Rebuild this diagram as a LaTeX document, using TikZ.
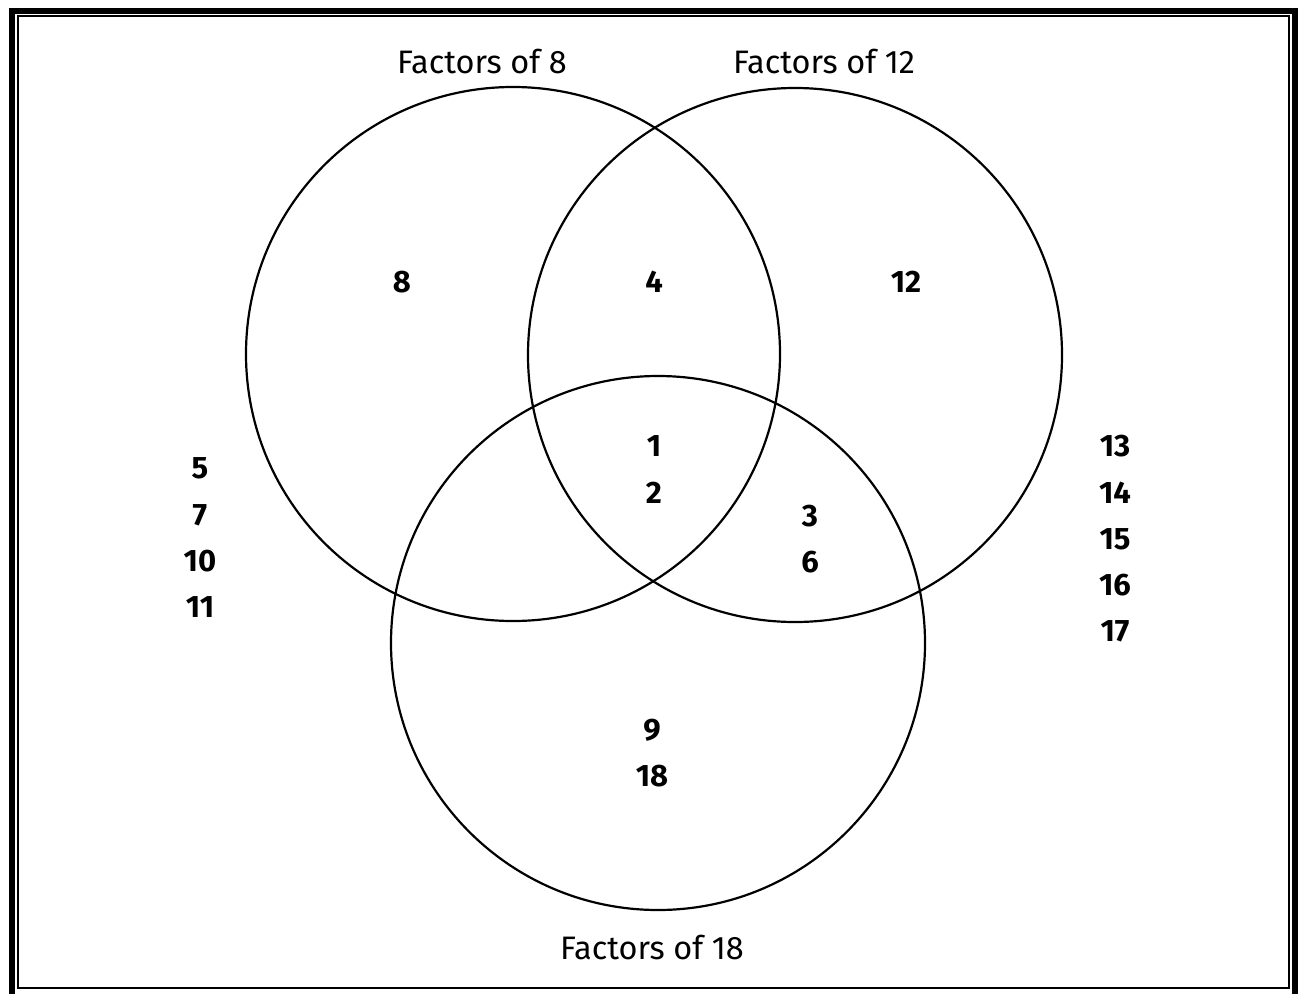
\documentclass[tikz,border=0pt]{standalone}
\usepackage{fontspec}
\setmainfont{Fira Sans}
\begin{document}
\begin{tikzpicture}[x=1pt,y=-1pt,
  setcircle/.style={draw=black,line width=2.2pt},
  setlabel/.style={font=\fontsize{32.5}{38}\selectfont,inner sep=0pt,anchor=center},
  num/.style={font=\fontsize{31}{36}\selectfont\bfseries,inner sep=0pt,anchor=center}]
\useasboundingbox (0,0) rectangle (1298,993);
\fill[white] (0,0) rectangle (1298,993);
% frame
\draw[line width=6pt] (12,11) rectangle (1295,1000);
\draw[line width=2pt] (18,16) rectangle (1289,988);
% circles
\draw[setcircle] (513,354) circle[radius=267];
\draw[setcircle] (795,355) circle[radius=267];
\draw[setcircle] (658,643) circle[radius=267];
% labels
\node[setlabel] (l8) at (482,62) {Factors of 8};
\node[setlabel] (l12) at (824,62) {Factors of 12};
\node[setlabel] (l18) at (652,947) {Factors of 18};
% numbers
\node[num] (n8) at (402,282) {8};
\node[num] (n4) at (654,282) {4};
\node[num] (n12) at (906,282) {12};
\node[num] (n1) at (654,446) {1};
\node[num] (n2) at (654,493) {2};
\node[num] (n3) at (810,516) {3};
\node[num] (n6) at (810,562) {6};
\node[num] (n9) at (652,730) {9};
\node[num] (n18) at (652,776) {18};
\node[num] (n5) at (200,468) {5};
\node[num] (n7) at (200,515) {7};
\node[num] (n10) at (200,561) {10};
\node[num] (n11) at (200,607) {11};
\node[num] (n13) at (1115,446) {13};
\node[num] (n14) at (1115,493) {14};
\node[num] (n15) at (1115,539) {15};
\node[num] (n16) at (1115,585) {16};
\node[num] (n17) at (1115,631) {17};
\end{tikzpicture}
\end{document}
